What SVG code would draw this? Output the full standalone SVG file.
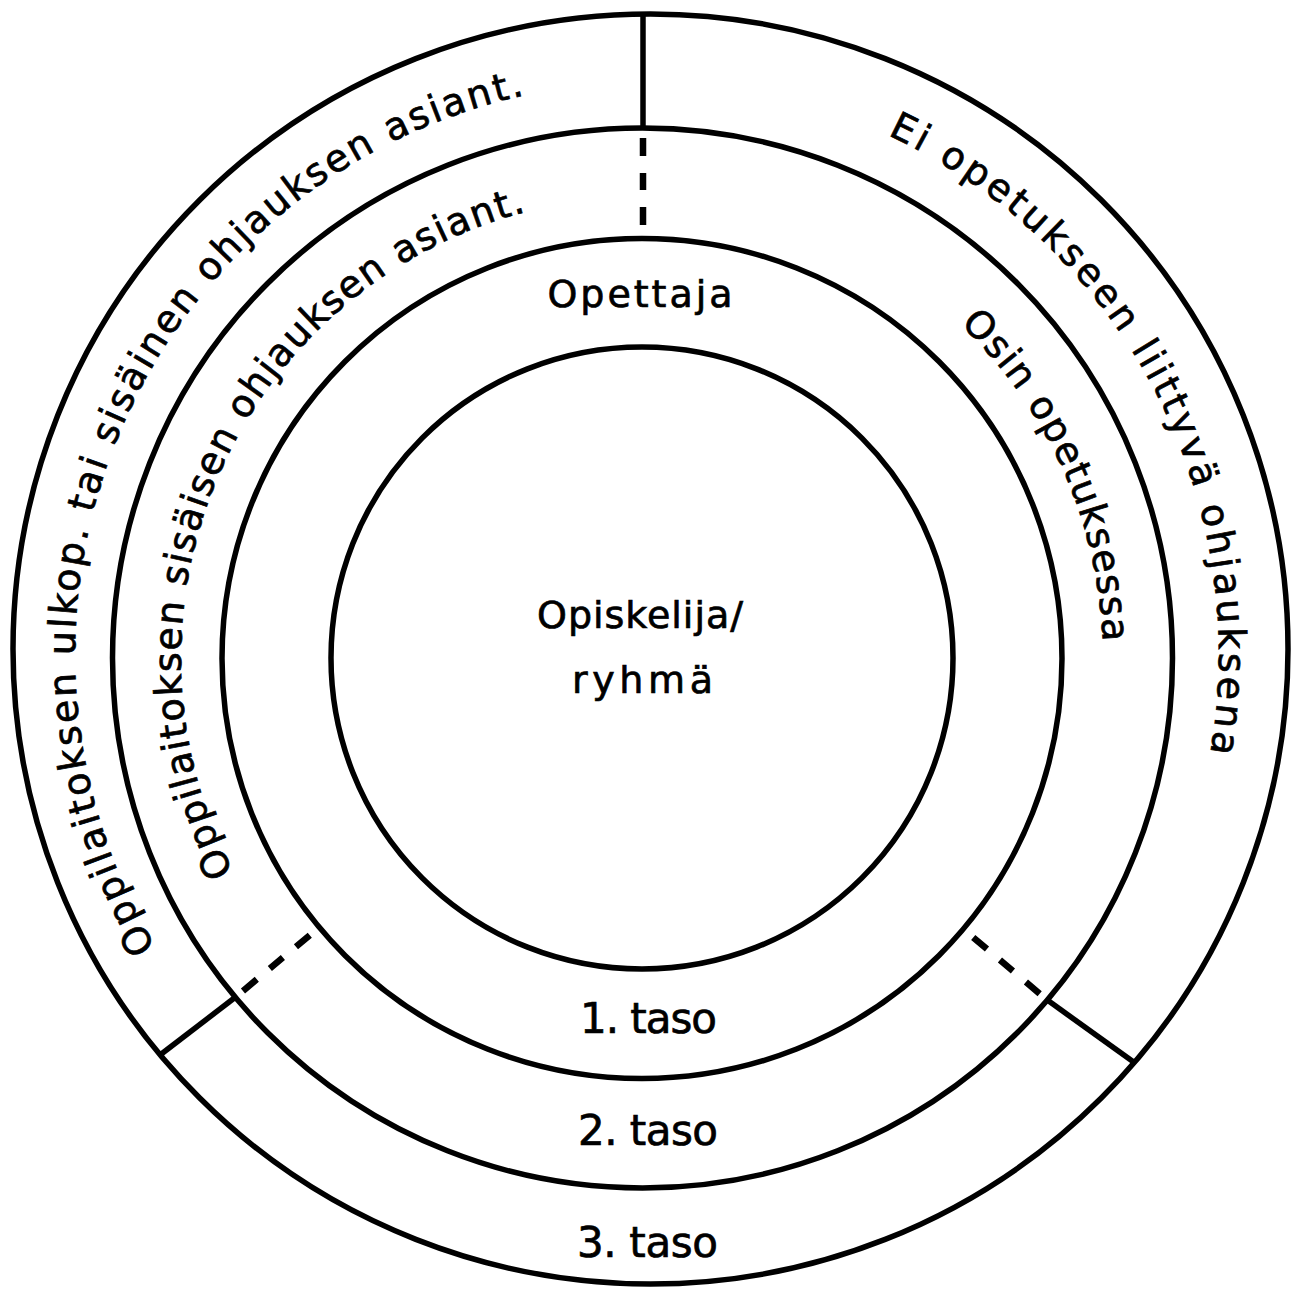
<svg xmlns="http://www.w3.org/2000/svg" width="1295" height="1292" viewBox="0 0 1295 1292">
  <style>
    .ring { fill: none; stroke: #000; stroke-width: 5.5; }
    .solid { stroke: #000; stroke-width: 5.5; fill: none; }
    .dash { stroke: #000; stroke-width: 6.5; fill: none; stroke-dasharray: 0 10 18 17 17 17 18 13; }
    .t { font-family: "DejaVu Sans", "Liberation Sans", sans-serif; fill: #000; stroke: #000; stroke-width: 0.7; }
    .c { font-size: 38px; text-anchor: middle; }
    .lvl { font-size: 42px; text-anchor: middle; }
    .arc { font-size: 38px; text-anchor: middle; }
  </style>
  <defs>
    <path id="pOuter" d="M 647 1226 A 572 572 0 0 1 647 82 A 572 572 0 0 1 647 1226"/>
    <path id="pSecond" d="M 642 1119 A 461 461 0 0 1 642 197 A 461 461 0 0 1 642 1119"/>
  </defs>
  <rect x="0" y="0" width="1295" height="1292" fill="#fff"/>

  <g id="rings">
    <ellipse id="ring-outer" class="ring" cx="650.5" cy="649" rx="637.5" ry="635"/>
    <circle id="ring-2" class="ring" cx="642.5" cy="658" r="530"/>
    <circle id="ring-3" class="ring" cx="642" cy="658.5" r="420"/>
    <circle id="ring-inner" class="ring" cx="642" cy="658" r="311"/>
  </g>

  <g id="connectors">
    <line class="solid" x1="643" y1="14" x2="643" y2="128"/>
    <line class="dash" x1="643" y1="128" x2="643" y2="238"/>
    <line class="solid" x1="160" y1="1055" x2="235.3" y2="997.3"/>
    <line class="dash" x1="235.3" y1="997.3" x2="319.8" y2="926.8"/>
    <line class="solid" x1="1135" y1="1063" x2="1047.3" y2="1000.1"/>
    <line class="dash" x1="1047.3" y1="1000.1" x2="963.3" y2="929.1"/>
  </g>

  <g id="label-outer-left">
    <text class="t arc" letter-spacing="2.4"><textPath href="#pOuter" startOffset="1133">Oppilaitoksen ulkop. tai sisäinen ohjauksen asiant.</textPath></text>
  </g>
  <g id="label-outer-right">
    <text class="t arc" letter-spacing="3.4"><textPath href="#pOuter" startOffset="2421">Ei opetukseen liittyvä ohjauksena</textPath></text>
  </g>
  <g id="label-second-left">
    <text class="t arc" letter-spacing="1.5"><textPath href="#pSecond" startOffset="917">Oppilaitoksen sisäisen ohjauksen asiant.</textPath></text>
  </g>
  <g id="label-second-right">
    <text class="t arc" letter-spacing="1.5"><textPath href="#pSecond" startOffset="1978">Osin opetuksessa</textPath></text>
  </g>

  <g id="node-opettaja">
    <text class="t c" x="640" y="307" textLength="185">Opettaja</text>
  </g>
  <g id="node-opiskelija">
    <text class="t c" x="640" y="628" textLength="206">Opiskelija/</text>
    <text class="t c" x="642.5" y="693" textLength="141">ryhmä</text>
  </g>
  <g id="level-1">
    <text class="t lvl" x="648.5" y="1033" textLength="137">1. taso</text>
  </g>
  <g id="level-2">
    <text class="t lvl" x="648" y="1145" textLength="140">2. taso</text>
  </g>
  <g id="level-3">
    <text class="t lvl" x="647.5" y="1257" textLength="141">3. taso</text>
  </g>
</svg>
